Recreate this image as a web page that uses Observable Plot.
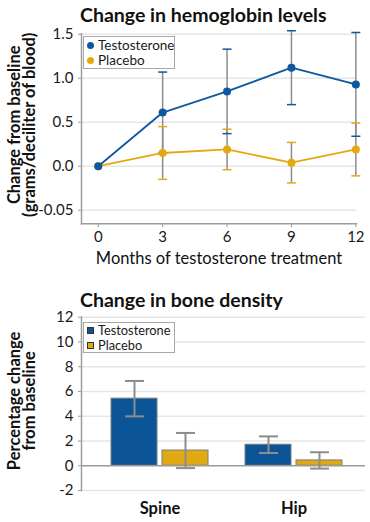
<!DOCTYPE html>
<html>
<head>
<meta charset="utf-8">
<script src="https://cdn.jsdelivr.net/npm/d3@7"></script>
<script src="https://cdn.jsdelivr.net/npm/@observablehq/plot@0.6"></script>
<style>
  html, body { margin: 0; padding: 0; background: #fff; }
  #wrap { position: relative; width: 370px; height: 522px; overflow: hidden; font-family: Lato, "Noto Sans", sans-serif; }
  .title { position: absolute; left: 80px; font-weight: bold; font-size: 19.5px; line-height: 1; color: #111; white-space: nowrap; }
  .legend { position: absolute; left: 83px; width: 92px; box-sizing: border-box; border: 1px solid #a8a8a8; background: #fff; font-size: 13.5px; color: #1a1a1a; z-index: 2; padding-left: 3px; }
  .legend .row { display: flex; align-items: center; white-space: nowrap; overflow: hidden; }
  .legend .lab { display: inline-block; overflow: hidden; }
  .legend .dot { width: 7px; height: 7px; border-radius: 50%; margin-right: 4px; flex: none; }
  .legend .sq { width: 7px; height: 7px; box-sizing: border-box; border: 1px solid #333; margin-right: 4px; flex: none; }
  .chart { position: absolute; left: 0; }
</style>
</head>
<body>
<div id="wrap">
  <div class="title" id="t1" style="top:5.4px">Change in hemoglobin levels</div>
  <div class="chart" id="c1" style="top:0px"></div>
  <div class="legend" id="l1" style="top:36px;height:33px;padding-top:1px"></div>
  <div class="title" id="t2" style="top:290px">Change in bone density</div>
  <div class="chart" id="c2" style="top:275px"></div>
  <div class="legend" id="l2" style="top:322px;height:30.5px;padding-top:0px;font-size:12.8px"></div>
</div>
<script>
// ---------- Data: hemoglobin ----------
const months = [0, 3, 6, 9, 12];
const testoHb = [0, 0.61, 0.85, 1.12, 0.93];
const testoHbErr = [0, 0.46, 0.48, 0.42, 0.59];
const placHb = [0, 0.15, 0.19, 0.04, 0.19];
const placHbErr = [0, 0.30, 0.23, 0.23, 0.30];
const hbTicks = [-0.5, 0, 0.5, 1.0, 1.5];
const hbTickLabels = ["-0.05", "0.0", "0.5", "1.0", "1.5"];

// ---------- Data: bone density ----------
const sites = ["Spine", "Hip"];
const testoBone = [5.42, 1.70];
const testoBoneErr = [1.43, 0.67];
const placBone = [1.23, 0.43];
const placBoneErr = [1.42, 0.66];
const boneTicks = [-2, 0, 2, 4, 6, 8, 10, 12];
const boneTickLabels = ["-2", "0", "2", "4", "6", "8", "10", "12"];

const seriesNames = ["Testosterone", "Placebo"];
const lineColors = ["#0d58a0", "#e5a90f"];
const barColors = ["#0b5597", "#e1a913"];

// cap symbol: a short horizontal stroke
const capSymbol = {
  draw(context, size) {
    const r = Math.sqrt(size / Math.PI);
    context.moveTo(-r, 0);
    context.lineTo(r, 0);
  }
};

// ---------- Chart 1 ----------
const tRows = months.map((m, i) => ({month: m, mean: testoHb[i], err: testoHbErr[i], lo: testoHb[i] - testoHbErr[i], hi: testoHb[i] + testoHbErr[i]}));
const pRows = months.map((m, i) => ({month: m, mean: placHb[i], err: placHbErr[i], lo: placHb[i] - placHbErr[i], hi: placHb[i] + placHbErr[i]}));
const tErr = tRows.filter(d => d.err > 0);
const pErr = pRows.filter(d => d.err > 0);

const xDom1 = [-0.78, 12.03];
const yDom1 = [-0.655, 1.505];

const chart1 = Plot.plot({
  width: 370, height: 275,
  marginLeft: 81, marginRight: 14, marginTop: 33.3, marginBottom: 51.7,
  style: {fontFamily: "Lato, 'Noto Sans', sans-serif", fontSize: "15px", color: "#1a1a1a", background: "transparent", overflow: "visible"},
  x: {domain: xDom1},
  y: {domain: yDom1},
  marks: [
    Plot.ruleY(hbTicks, {stroke: "#e6e6e6", strokeWidth: 1.5}),
    Plot.frame({anchor: "left", stroke: "#9c9c9c", strokeWidth: 1.5}),
    Plot.frame({anchor: "bottom", stroke: "#9c9c9c", strokeWidth: 1.5}),
    Plot.axisY({ticks: hbTicks, tickFormat: d => hbTickLabels[hbTicks.indexOf(d)], tickSize: 3, tickPadding: 5, stroke: "#9c9c9c", fill: "#1a1a1a", label: null, fontSize: 15}),
    Plot.axisX({ticks: months, tickSize: 4, tickPadding: 4, stroke: "#9c9c9c", fill: "#1a1a1a", label: null, fontSize: 15}),
    Plot.ruleX(pErr, {x: "month", y1: "lo", y2: "hi", stroke: "#8c8c8c", strokeWidth: 1.5}),
    Plot.ruleX(tErr, {x: "month", y1: "lo", y2: "hi", stroke: "#8c8c8c", strokeWidth: 1.5}),
    Plot.dot(pErr, {x: "month", y: "hi", symbol: capSymbol, r: 4.5, fill: "none", stroke: lineColors[1], strokeWidth: 1.5}),
    Plot.dot(pErr, {x: "month", y: "lo", symbol: capSymbol, r: 4.5, fill: "none", stroke: lineColors[1], strokeWidth: 1.5}),
    Plot.dot(tErr, {x: "month", y: "hi", symbol: capSymbol, r: 4.5, fill: "none", stroke: lineColors[0], strokeWidth: 1.5}),
    Plot.dot(tErr, {x: "month", y: "lo", symbol: capSymbol, r: 4.5, fill: "none", stroke: lineColors[0], strokeWidth: 1.5}),
    Plot.line(pRows, {x: "month", y: "mean", stroke: lineColors[1], strokeWidth: 1.8}),
    Plot.dot(pRows, {x: "month", y: "mean", r: 4, fill: lineColors[1]}),
    Plot.line(tRows, {x: "month", y: "mean", stroke: lineColors[0], strokeWidth: 1.8}),
    Plot.dot(tRows, {x: "month", y: "mean", r: 4, fill: lineColors[0]}),
    Plot.text(["Change from baseline\n(grams/deciliter of blood)"], {frameAnchor: "left", textAnchor: "middle", rotate: -90, dx: -59, dy: -4, lineHeight: 0.9, fontSize: 16.5, fontWeight: "bold", fill: "#111"}),
    Plot.text(["Months of testosterone treatment"], {frameAnchor: "bottom", textAnchor: "middle", lineAnchor: "middle", dy: 34.7, fontSize: 16.5, fill: "#111"})
  ]
});
document.getElementById("c1").appendChild(chart1);

// ---------- Chart 2 ----------
const tBone = sites.map((s, i) => ({site: s, value: testoBone[i], lo: testoBone[i] - testoBoneErr[i], hi: testoBone[i] + testoBoneErr[i]}));
const pBone = sites.map((s, i) => ({site: s, value: placBone[i], lo: placBone[i] - placBoneErr[i], hi: placBone[i] + placBoneErr[i]}));

const chart2 = Plot.plot({
  width: 370, height: 247,
  marginLeft: 81, marginRight: 5, marginTop: 41.7, marginBottom: 32,
  style: {fontFamily: "Lato, 'Noto Sans', sans-serif", fontSize: "15px", color: "#1a1a1a", background: "transparent", overflow: "visible"},
  x: {domain: sites, paddingInner: 0.278, paddingOuter: 0.196, align: 0.57},
  y: {domain: [-2, 12]},
  marks: [
    Plot.ruleY(boneTicks.filter(d => d !== 0), {stroke: "#e6e6e6", strokeWidth: 1.5}),
    Plot.frame({anchor: "left", stroke: "#9c9c9c", strokeWidth: 1.5}),
    Plot.axisY({ticks: boneTicks, tickFormat: d => boneTickLabels[boneTicks.indexOf(d)], tickSize: 3, tickPadding: 5, stroke: "#9c9c9c", fill: "#1a1a1a", label: null, fontSize: 15}),
    Plot.axisX({tickSize: 0, tickPadding: 12, fill: "#111", label: null, fontSize: 16.5, fontWeight: "bold"}),
    Plot.barY(tBone, {x: "site", y: "value", fill: barColors[0], stroke: "#7d7d7d", strokeWidth: 1, insetRight: 51}),
    Plot.barY(pBone, {x: "site", y: "value", fill: barColors[1], stroke: "#7d7d7d", strokeWidth: 1, insetLeft: 51}),
    Plot.ruleY([0], {stroke: "#9a9a9a", strokeWidth: 1.5}),
    Plot.ruleX(tBone, {x: "site", y1: "lo", y2: "hi", dx: -25.5, stroke: "#8c8c8c", strokeWidth: 2}),
    Plot.ruleX(pBone, {x: "site", y1: "lo", y2: "hi", dx: 25.5, stroke: "#8c8c8c", strokeWidth: 2}),
    Plot.dot(tBone, {x: "site", y: "hi", dx: -25.5, symbol: capSymbol, r: 9.5, fill: "none", stroke: "#8c8c8c", strokeWidth: 2}),
    Plot.dot(tBone, {x: "site", y: "lo", dx: -25.5, symbol: capSymbol, r: 9.5, fill: "none", stroke: "#8c8c8c", strokeWidth: 2}),
    Plot.dot(pBone, {x: "site", y: "hi", dx: 25.5, symbol: capSymbol, r: 9.5, fill: "none", stroke: "#8c8c8c", strokeWidth: 2}),
    Plot.dot(pBone, {x: "site", y: "lo", dx: 25.5, symbol: capSymbol, r: 9.5, fill: "none", stroke: "#8c8c8c", strokeWidth: 2}),
    Plot.text(["Percentage change\nfrom baseline"], {frameAnchor: "left", textAnchor: "middle", rotate: -90, dx: -59, dy: -3, lineHeight: 0.9, fontSize: 16.5, fontWeight: "bold", fill: "#111"})
  ]
});
document.getElementById("c2").appendChild(chart2);

// ---------- Legends ----------
function legend(el, kind, colors, rowH) {
  seriesNames.forEach((name, i) => {
    const row = document.createElement("div");
    row.className = "row";
    row.style.height = rowH + "px";
    const sw = document.createElement("span");
    sw.className = kind;
    sw.style.background = colors[i];
    const tx = document.createElement("span");
    tx.className = "lab";
    tx.style.height = rowH + "px";
    tx.style.lineHeight = rowH + "px";
    tx.textContent = name;
    row.appendChild(sw);
    row.appendChild(tx);
    el.appendChild(row);
  });
}
legend(document.getElementById("l1"), "dot", lineColors, 15);
legend(document.getElementById("l2"), "sq", barColors, 15.2);
</script>
</body>
</html>
